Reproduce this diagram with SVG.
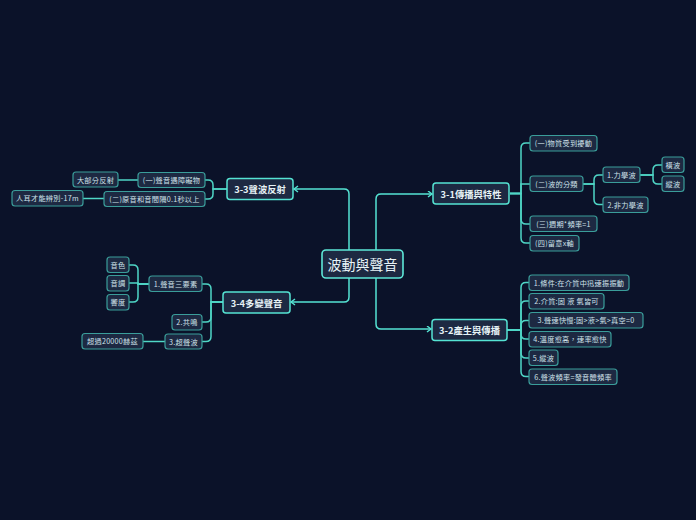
<svg xmlns="http://www.w3.org/2000/svg" width="696" height="520" viewBox="0 0 696 520">
<style>
.bg{fill:#0b1229}
.n rect{fill:#1d2942;stroke:#3a9d9a;stroke-width:1.2}
.n text{fill:#cfe2ea;font-family:"Noto Sans CJK TC","Noto Sans",sans-serif;font-size:7.2px;letter-spacing:0.25px;text-anchor:middle;dominant-baseline:central}
.l1 rect{fill:#1d2942;stroke:#55e3d3;stroke-width:1.5}
.l1 text{fill:#e6f2f6;font-family:"Noto Sans CJK TC","Noto Sans",sans-serif;font-size:9.3px;font-weight:bold;text-anchor:middle;dominant-baseline:central}
.root rect{fill:#1d2942;stroke:#5ee8d8;stroke-width:1.6}
.root text{fill:#e8f4f8;font-family:"Noto Sans CJK TC","Noto Sans",sans-serif;font-size:14px;text-anchor:middle;dominant-baseline:central}
#connectors path{fill:none;stroke:#4fd6c6;stroke-width:1.5}
#connectors path.main{stroke:#55e3d3;marker-end:url(#arr)}
</style>
<defs>
<marker id="arr" markerWidth="8" markerHeight="8" refX="5" refY="3.5" orient="auto" markerUnits="userSpaceOnUse">
<path d="M1,0.5 L5,3.5 L1,6.5" fill="none" stroke="#55e3d3" stroke-width="1.4"/>
</marker>
</defs>
<rect class="bg" x="0" y="0" width="696" height="520"/>
<g id="connectors">
<path class="main" d="M376,250 V199 Q376,194 381,194 H432"/>
<path class="main" d="M349,250 V194 Q349,189 344,189 H294"/>
<path class="main" d="M349,278 V297 Q349,302 344,302 H291"/>
<path class="main" d="M376,278 V324 Q376,329 381,329 H431"/>
<path d="M510,193.5 H521 V148 Q521,143 526,143 H530"/>
<path d="M510,193.5 H521 V184 H530"/>
<path d="M510,193.5 H521 V219 Q521,224 526,224 H530"/>
<path d="M510,193.5 H521 V238 Q521,243 526,243 H530"/>
<path d="M583,184 H594 V180 Q594,175 599,175 H603"/>
<path d="M583,184 H594 V199.5 Q594,204.5 599,204.5 H603"/>
<path d="M640,175 H653 V170 Q653,165 658,165 H662"/>
<path d="M640,175 H653 V179 Q653,184 658,184 H662"/>
<path d="M507,330 H521 V287.5 Q521,282.5 526,282.5 H529"/>
<path d="M507,330 H521 V306 Q521,301 526,301 H529"/>
<path d="M507,330 H521 V325.5 Q521,320.5 526,320.5 H529"/>
<path d="M507,330 H521 V334 Q521,339 526,339 H529"/>
<path d="M507,330 H521 V353 Q521,358 526,358 H529"/>
<path d="M507,330 H521 V371.5 Q521,376.5 526,376.5 H529"/>
<path d="M227,189 H213 V185 Q213,180 208,180 H205"/>
<path d="M227,189 H213 V194 Q213,199 208,199 H205"/>
<path d="M138,180 H118"/>
<path d="M104,198.5 H83"/>
<path d="M223,302 H211 V289 Q211,284 206,284 H202"/>
<path d="M223,302 H211 V317 Q211,322 206,322 H202"/>
<path d="M223,302 H211 V336.5 Q211,341.5 206,341.5 H202"/>
<path d="M149,284 H138 V270 Q138,265 133,265 H129"/>
<path d="M149,284 H138 V283 H129"/>
<path d="M149,284 H138 V297 Q138,302 133,302 H129"/>
<path d="M165,341.5 H143"/>
</g>
<g id="root" class="root"><rect x="322" y="250" width="81" height="28" rx="4"/><text x="362.5" y="264">波動與聲音</text></g>
<g id="n31" class="l1"><rect x="433" y="183" width="76" height="21" rx="3"/><text x="471" y="193.5">3-1傳播與特性</text></g>
<g id="n32" class="l1"><rect x="432" y="319.5" width="75" height="21" rx="3"/><text x="469.5" y="330">3-2產生與傳播</text></g>
<g id="n33" class="l1"><rect x="227" y="178.5" width="66" height="21" rx="3"/><text x="260" y="189">3-3聲波反射</text></g>
<g id="n34" class="l1"><rect x="223" y="292" width="67" height="21" rx="3"/><text x="256.5" y="302.5">3-4多變聲音</text></g>
<g id="n311" class="n"><rect x="530" y="135.5" width="67" height="15.5" rx="3"/><text x="563.5" y="143.3">(一)物質受到擾動</text></g>
<g id="n312" class="n"><rect x="530" y="176" width="53" height="15.5" rx="3"/><text x="556.5" y="183.8">(二)波的分類</text></g>
<g id="n313" class="n"><rect x="530" y="216" width="67" height="15.5" rx="3"/><text x="563.5" y="223.8">(三)週期*頻率=1</text></g>
<g id="n314" class="n"><rect x="530" y="235.5" width="49" height="15.5" rx="3"/><text x="554.5" y="243.3">(四)留意x軸</text></g>
<g id="n3121" class="n"><rect x="603" y="167" width="37" height="15.5" rx="3"/><text x="621.5" y="174.8">1.力學波</text></g>
<g id="n3122" class="n"><rect x="603" y="197" width="45" height="15.5" rx="3"/><text x="625.5" y="204.8">2.非力學波</text></g>
<g id="n31211" class="n"><rect x="662" y="157" width="22" height="15.5" rx="3"/><text x="673" y="164.8">橫波</text></g>
<g id="n31212" class="n"><rect x="662" y="176" width="22" height="15.5" rx="3"/><text x="673" y="183.8">縱波</text></g>
<g id="n321" class="n"><rect x="529" y="275" width="100" height="15.5" rx="3"/><text x="579" y="282.8">1.條件:在介質中迅速振振動</text></g>
<g id="n322" class="n"><rect x="529" y="293.5" width="75" height="15.5" rx="3"/><text x="566.5" y="301.3">2.介質:固 液 氣皆可</text></g>
<g id="n323" class="n"><rect x="529" y="312.5" width="114" height="15.5" rx="3"/><text x="586" y="320.3">3.聲速快慢:固&gt;液&gt;氣&gt;真空=0</text></g>
<g id="n324" class="n"><rect x="529" y="331.5" width="82" height="15.5" rx="3"/><text x="570" y="339.3">4.溫度愈高，速率愈快</text></g>
<g id="n325" class="n"><rect x="529" y="350" width="29" height="15.5" rx="3"/><text x="543.5" y="357.8">5.縱波</text></g>
<g id="n326" class="n"><rect x="529" y="369" width="88" height="15.5" rx="3"/><text x="573" y="376.8">6.聲波頻率=發音體頻率</text></g>
<g id="n331" class="n"><rect x="138" y="172.5" width="67" height="15" rx="3"/><text x="171.5" y="180">(一)聲音遇障礙物</text></g>
<g id="n332" class="n"><rect x="104" y="191.5" width="101" height="15" rx="3"/><text x="154.5" y="199">(二)原音和音間隔0.1秒以上</text></g>
<g id="n3311" class="n"><rect x="73" y="172" width="45" height="15" rx="3"/><text x="95.5" y="179.5">大部分反射</text></g>
<g id="n3321" class="n"><rect x="12" y="190.5" width="71" height="15.5" rx="3"/><text x="47.5" y="198.3">人耳才能辨別-17m</text></g>
<g id="n341" class="n"><rect x="149" y="276" width="53" height="15.5" rx="3"/><text x="175.5" y="283.8">1.聲音三要素</text></g>
<g id="n342" class="n"><rect x="172" y="314.5" width="30" height="15.5" rx="3"/><text x="187" y="322.3">2.共鳴</text></g>
<g id="n343" class="n"><rect x="165" y="334" width="37" height="15" rx="3"/><text x="183.5" y="341.5">3.超聲波</text></g>
<g id="n3411" class="n"><rect x="107" y="257" width="22" height="15.5" rx="3"/><text x="118" y="264.8">音色</text></g>
<g id="n3412" class="n"><rect x="107" y="275.5" width="22" height="15.5" rx="3"/><text x="118" y="283.3">音調</text></g>
<g id="n3413" class="n"><rect x="107" y="294.5" width="22" height="15.5" rx="3"/><text x="118" y="302.3">響度</text></g>
<g id="n3431" class="n"><rect x="82" y="333.5" width="61" height="15.5" rx="3"/><text x="112.5" y="341.3">超過20000赫茲</text></g>
</svg>
